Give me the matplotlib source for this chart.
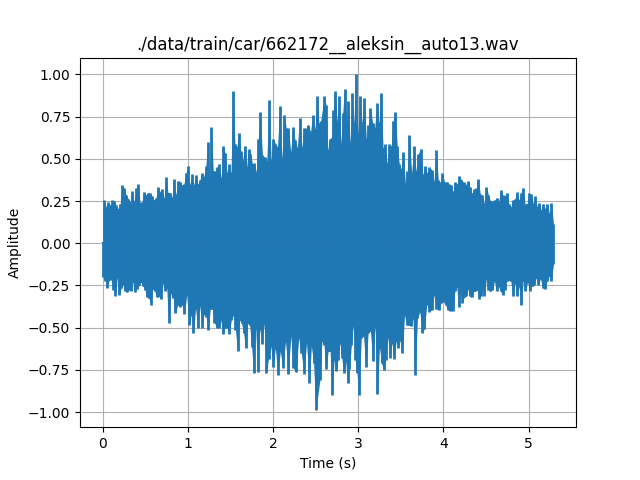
import numpy as np
import matplotlib
matplotlib.use('Agg')
import matplotlib.pyplot as plt

# peak amplitude per short time step
duration = 5.29
upper_peaks = [
    .255, .215, .245, .225, .255, .25, .225, .205, .235, .345, .325, .285, .265, .245, .31, .245, .325, .35,
    .24, .245, .305, .285, .30, .295, .28, .255, .27, .335, .305, .32, .265, .39, .30, .30, .27, .38,
    .285, .37, .365, .345, .35, .415, .455, .345, .41, .345, .405, .35, .375, .415, .395, .455, .60, .365,
    .69, .43, .425, .45, .47, .385, .575, .535, .415, .47, .415, .90, .59, .57, .655, .545, .49, .575,
    .45, .56, .53, .47, .475, .42, .62, .78, .52, .51, .49, .85, .49, .62, .59, .57, .81, .50,
    .76, .68, .68, .54, .69, .61, .565, .74, .565, .68, .68, .70, .66, .76, .675, .87, .71, .725,
    .87, .82, .55, .62, .625, .79, .90, .72, .875, .59, .77, .915, .71, .84, .59, .89, .71, 1.0,
    .64, .875, .71, .86, .62, .70, .80, .715, .68, .83, .71, .89, .565, .585, .47, .585, .575, .725,
    .78, .575, .47, .44, .54, .355, .425, .64, .415, .575, .425, .53, .56, .405, .455, .415, .45, .435,
    .365, .55, .375, .36, .415, .36, .365, .35, .345, .305, .36, .35, .40, .375, .36, .345, .37, .335,
    .295, .32, .325, .38, .29, .285, .235, .335, .285, .25, .25, .255, .27, .245, .315, .285, .28, .30,
    .235, .215, .255, .26, .305, .255, .295, .33, .23, .235, .295, .29, .235, .28, .215, .24, .195, .235,
    .205, .235, .175, .24, .115,
]
lower_peaks = [
    -.20, -.225, -.265, -.215, -.215, -.275, -.315, -.205, -.305, -.265, -.245, -.285, -.29, -.275, -.28, -.23,
    -.29, -.27, -.25, -.23, -.255, -.275, -.32, -.325, -.365, -.27, -.285, -.32, -.315, -.33, -.235, -.28,
    -.265, -.475, -.295, -.325, -.415, -.365, -.375, -.365, -.42, -.305, -.485, -.425, -.53, -.385, -.50, -.37,
    -.50, -.42, -.435, -.515, -.39, -.39, -.47, -.50, -.50, -.455, -.54, -.50, -.50, -.535, -.455, -.425,
    -.515, -.64, -.455, -.475, -.53, -.62, -.475, -.485, -.615, -.77, -.50, -.76, -.505, -.595, -.475, -.77,
    -.685, -.61, -.73, -.62, -.78, -.64, -.74, -.58, -.775, -.55, -.74, -.765, -.56, -.65, -.775, -.59,
    -.83, -.61, -.71, -.99, -.81, -.58, -.60, -.745, -.64, -.64, -.90, -.69, -.755, -.69, -.59, -.68,
    -.77, -.70, -.83, -.745, -.60, -.49, -.69, -.77, -.90, -.56, -.55, -.73, -.53, -.52, -.70, -.49,
    -.89, -.615, -.71, -.75, -.69, -.555, -.68, -.59, -.685, -.58, -.62, -.575, -.65, -.425, -.485, -.485,
    -.49, -.445, -.78, -.445, -.405, -.53, -.505, -.36, -.405, -.395, -.305, -.39, -.395, -.355, -.345, -.365,
    -.395, -.40, -.40, -.285, -.26, -.38, -.285, -.355, -.32, -.315, -.27, -.315, -.32, -.285, -.285, -.275,
    -.33, -.31, -.265, -.315, -.21, -.275, -.285, -.275, -.225, -.285, -.255, -.285, -.305, -.275, -.225, -.22,
    -.225, -.315, -.235, -.315, -.255, -.365, -.22, -.285, -.23, -.28, -.255, -.25, -.205, -.245, -.21, -.265,
    -.27, -.225, -.195, -.225, -.125,
]

# where the big spikes sit: list position -> time in seconds
upper_marks = [0, 52, 54, 65, 79, 83, 88, 105, 107, 108, 125, 137, 151, 163, 183, 205, len(upper_peaks) - 1]
upper_mark_times = [0.02, 1.235, 1.275, 1.53, 1.85, 1.953, 2.078, 2.518, 2.56, 2.60, 2.97, 3.267, 3.60, 3.914, 4.408, 4.933, duration]
lower_marks = [0, 33, 44, 65, 73, 75, 79, 84, 96, 99, 100, 106, 114, 120, 128, 140, 146, 163, 180, 197, len(lower_peaks) - 1]
lower_mark_times = [0.01, 0.776, 1.067, 1.584, 1.773, 1.82, 1.92, 2.055, 2.424, 2.502, 2.55, 2.694, 2.875, 3.008, 3.224, 3.518, 3.667, 4.134, 4.502, 4.91, duration]

upper_time = np.interp(np.arange(len(upper_peaks)), upper_marks, upper_mark_times)
lower_time = np.interp(np.arange(len(lower_peaks)), lower_marks, lower_mark_times)

fig, ax = plt.subplots()
ax.plot([0, 0.02], [0, 0], color='C0')
# solid body of the waveform, then the individual peaks on top
ax.fill_between(upper_time, 0, upper_peaks, color='C0', linewidth=0, zorder=2)
ax.fill_between(lower_time, lower_peaks, 0, color='C0', linewidth=0, zorder=2)
ax.vlines(upper_time, 0, upper_peaks, color='C0', linewidth=2, zorder=2)
ax.vlines(lower_time, lower_peaks, 0, color='C0', linewidth=2, zorder=2)
ax.set_title('./data/train/car/662172__aleksin__auto13.wav')
ax.set_xlabel('Time (s)')
ax.set_ylabel('Amplitude')
ax.grid(True)
fig.savefig('out.png', dpi=100)
